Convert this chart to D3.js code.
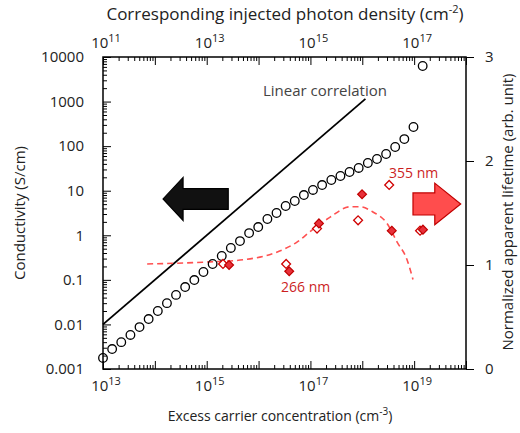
<!DOCTYPE html>
<html>
<head>
<meta charset="utf-8">
<script src="https://cdn.jsdelivr.net/npm/d3@7"></script>
<style>
  body { margin: 0; background: #fff; }
  svg { font-family: "Open Sans", sans-serif; }
</style>
</head>
<body>
<svg id="chart" width="520" height="433"></svg>
<script>
// conductivity vs excess carrier concentration (open circles)
const carrierConc = [1e13, 1.5e13, 2.25e13, 3.38e13, 5.06e13, 7.59e13, 1.14e14, 1.71e14, 2.56e14, 3.84e14,
  5.77e14, 8.65e14, 1.30e15, 1.95e15, 2.92e15, 4.38e15, 6.57e15, 9.85e15, 1.48e16, 2.22e16,
  3.33e16, 4.99e16, 7.48e16, 1.12e17, 1.68e17, 2.53e17, 3.79e17, 5.68e17, 8.52e17, 1.28e18,
  1.92e18, 2.88e18, 4.31e18, 6.47e18, 9.71e18, 1.46e19];
const conductivity = [0.00177, 0.0028, 0.0040, 0.0058, 0.0087, 0.0132, 0.020, 0.030, 0.046, 0.069,
  0.099, 0.150, 0.227, 0.343, 0.52, 0.74, 1.12, 1.53, 2.32, 3.16,
  4.54, 5.88, 8.0, 10.4, 13.4, 17.4, 21.4, 26.3, 32.4, 41.9,
  51.5, 66.6, 95.7, 144, 269, 6280];

// linear correlation guide
const linearX = [1e13, 1.15e18];
const linearY = [0.01, 1150];

// normalized lifetime (diamonds)
const openX = [2.06e15, 3.4e16, 1.34e17, 8.3e17, 3.3e18, 1.3e19];
const openLife = [1.01, 1.01, 1.35, 1.43, 1.77, 1.33];
const filledX = [2.7e15, 3.9e16, 1.46e17, 9.9e17, 3.7e18, 1.48e19];
const filledLife = [1.0, 0.94, 1.40, 1.68, 1.33, 1.34];

// dashed trend
const trendX = [7.1e13, 1.16e15, 5e15, 2.3e16, 5.5e16, 1.1e17, 2.4e17, 5.8e17, 9e17, 1.6e18, 3e18, 4.7e18, 7.3e18, 9.5e18];
const trendLife = [1.01, 1.03, 1.05, 1.125, 1.22, 1.34, 1.46, 1.56, 1.56, 1.51, 1.40, 1.22, 1.05, 0.86];

// tick labels
const leftTicks = [1e-3, 1e-2, 1e-1, 1, 10, 100, 1000, 10000];
const leftLabels = ["0.001", "0.01", "0.1", "1", "10", "100", "1000", "10000"];
const bottomExps = [13, 15, 17, 19];
const topExps = [11, 13, 15, 17];
const rightTicks = [0, 1, 2, 3];

const svg = d3.select("#chart");

const x = d3.scaleLog().domain([1e13, 1e20]).range([103, 466]);
const xTop = d3.scaleLog().domain([1e11, 1e18]).range([103, 466]);
const y = d3.scaleLog().domain([1e-3, 1e4]).range([369, 57]);
const yR = d3.scaleLinear().domain([0, 3]).range([369, 57]);

// major/minor log ticks
function logTicks(lo, hi) {
  const major = [], minor = [];
  for (let e = lo; e <= hi; e++) {
    major.push(Math.pow(10, e));
    if (e < hi) for (let k = 2; k <= 9; k++) minor.push(k * Math.pow(10, e));
  }
  return { major, minor };
}

function drawAxis(axisFn, scale, vals, size, transform) {
  svg.append("g")
    .attr("transform", transform)
    .call(axisFn(scale).tickValues(vals).tickSize(size).tickFormat(""))
    .call(g => g.select(".domain").remove())
    .call(g => g.selectAll("line").attr("stroke", "#000").attr("stroke-width", 1));
}

const bt = logTicks(13, 20);
drawAxis(d3.axisBottom, x, bt.major, -8, "translate(0,369)");
drawAxis(d3.axisBottom, x, bt.minor, -4, "translate(0,369)");
const tt = logTicks(11, 18);
drawAxis(d3.axisTop, xTop, tt.major, -8, "translate(0,57)");
drawAxis(d3.axisTop, xTop, tt.minor, -4, "translate(0,57)");
const lt = logTicks(-3, 4);
drawAxis(d3.axisLeft, y, lt.major, -8, "translate(103,0)");
drawAxis(d3.axisLeft, y, lt.minor, -4, "translate(103,0)");
drawAxis(d3.axisRight, yR, rightTicks, 8, "translate(466,0)");

// frame
svg.append("rect")
  .attr("x", 103).attr("y", 57).attr("width", 363).attr("height", 312)
  .attr("fill", "none").attr("stroke", "#000").attr("stroke-width", 1.5);

// tick labels
svg.selectAll(".ll").data(leftTicks).enter().append("text")
  .attr("x", 84).attr("y", d => y(d)).attr("dy", "0.35em")
  .attr("text-anchor", "end").style("font-size", "15px").attr("fill", "#222")
  .text((d, i) => leftLabels[i]);

svg.selectAll(".rl").data(rightTicks).enter().append("text")
  .attr("x", 485).attr("y", d => yR(d)).attr("dy", "0.35em")
  .style("font-size", "15px").attr("fill", "#222")
  .text(d => d);

function powLabel(xpos, ypos, e) {
  const t = svg.append("text").attr("x", xpos).attr("y", ypos)
    .attr("text-anchor", "middle").style("font-size", "15px").attr("fill", "#222");
  t.append("tspan").text("10");
  t.append("tspan").attr("dy", -6).style("font-size", "11px").text(e);
}
bottomExps.forEach(e => powLabel(x(Math.pow(10, e)) + 3, 391, e));
topExps.forEach(e => powLabel(xTop(Math.pow(10, e)) + 3, 48, e));

// axis titles
const bt1 = svg.append("text").attr("x", 280).attr("y", 421).attr("text-anchor", "middle")
  .style("font-size", "14px").attr("fill", "#222");
bt1.append("tspan").text("Excess carrier concentration (cm");
bt1.append("tspan").attr("dy", -6).style("font-size", "10px").text("-3");
bt1.append("tspan").attr("dy", 6).text(")");

const tt1 = svg.append("text").attr("x", 285).attr("y", 20).attr("text-anchor", "middle")
  .style("font-size", "17px").attr("fill", "#222");
tt1.append("tspan").text("Corresponding injected photon density (cm");
tt1.append("tspan").attr("dy", -7).style("font-size", "11px").text("-2");
tt1.append("tspan").attr("dy", 7).text(")");

svg.append("text").attr("transform", "translate(25,213) rotate(-90)")
  .attr("text-anchor", "middle").style("font-size", "15px").attr("fill", "#222")
  .text("Conductivity (S/cm)");

svg.append("text").attr("transform", "translate(513,212) rotate(-90)")
  .attr("text-anchor", "middle").style("font-size", "15px").attr("fill", "#222")
  .text("Normalized apparent lifetime (arb. unit)");

// arrows (defined in data units)
function arrow(tail, base, tip, yc, bodyH, headH, fill, stroke) {
  const pts = [
    [tail, yc + bodyH], [base, yc + bodyH], [base, yc + headH], [tip, yc],
    [base, yc - headH], [base, yc - bodyH], [tail, yc - bodyH]
  ].map(p => [x(p[0]), yR(p[1])]);
  svg.append("path").attr("d", "M" + pts.join("L") + "Z")
    .attr("fill", fill).attr("stroke", stroke).attr("stroke-width", 1.2);
}
arrow(2.6e15, 3.5e14, 1.44e14, 1.635, 0.10, 0.207, "#111", "#000");
arrow(9.5e18, 2.5e19, 7.9e19, 1.587, 0.106, 0.20, "#ff4d4d", "#c00000");

// linear correlation
svg.append("path")
  .datum(linearX.map((d, i) => [d, linearY[i]]))
  .attr("d", d3.line().x(d => x(d[0])).y(d => y(d[1])))
  .attr("fill", "none").attr("stroke", "#000").attr("stroke-width", 1.8);
svg.append("text").attr("x", 263).attr("y", 96)
  .style("font-size", "15px").attr("fill", "#444").text("Linear correlation");

// dashed trend
svg.append("path")
  .datum(trendX.map((d, i) => [d, trendLife[i]]))
  .attr("d", d3.line().curve(d3.curveMonotoneX).x(d => x(d[0])).y(d => yR(d[1])))
  .attr("fill", "none").attr("stroke", "#ff5050").attr("stroke-width", 1.6)
  .attr("stroke-dasharray", "6,4");

// circles
svg.selectAll(".pt").data(carrierConc).enter().append("circle")
  .attr("cx", d => x(d)).attr("cy", (d, i) => y(conductivity[i])).attr("r", 4.3)
  .attr("fill", "none").attr("stroke", "#000").attr("stroke-width", 1.3);

// diamonds
const diamond = d3.symbol().type(d3.symbolDiamond2).size(50);
svg.selectAll(".od").data(openX).enter().append("path")
  .attr("d", diamond)
  .attr("transform", (d, i) => `translate(${x(d)},${yR(openLife[i])})`)
  .attr("fill", "#fff").attr("stroke", "#d00000").attr("stroke-width", 1.3);
svg.selectAll(".fd").data(filledX).enter().append("path")
  .attr("d", diamond)
  .attr("transform", (d, i) => `translate(${x(d)},${yR(filledLife[i])})`)
  .attr("fill", "#e8303a").attr("stroke", "#c00000").attr("stroke-width", 1.2);

// wavelength labels
svg.append("text").attr("x", 389).attr("y", 178).style("font-size", "14px")
  .attr("fill", "#cc1f1f").text("355 nm");
svg.append("text").attr("x", 281).attr("y", 292).style("font-size", "14px")
  .attr("fill", "#cc1f1f").text("266 nm");
</script>
</body>
</html>
